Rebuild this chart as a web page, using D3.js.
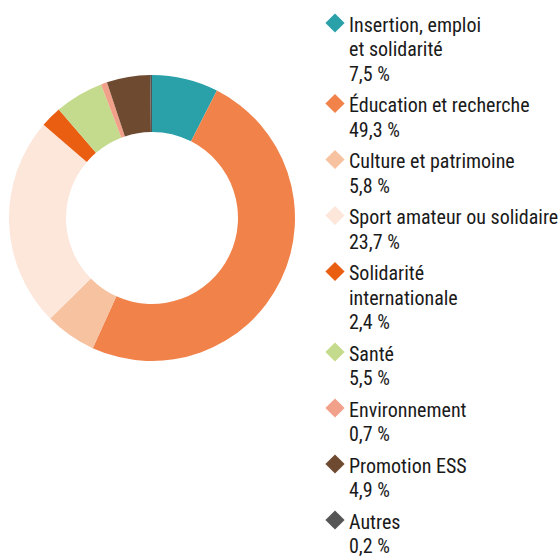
<!doctype html>
<head>
	<meta charset="utf-8">
	<script src="https://d3js.org/d3.v7.min.js"></script>
	<style>
		body { margin: 0; background: #fff; }
		text { font-family: "Liberation Sans Narrow", "Roboto Condensed", "Arial Narrow", sans-serif; fill: #1a1a1a; }
	</style>
</head>
<body>
	<svg id="chart" width="559" height="558"></svg>
	<script>
		// data
		const categories = ["Insertion, emploi|et solidarité", "Éducation et recherche", "Culture et patrimoine",
			"Sport amateur ou solidaire", "Solidarité|internationale", "Santé", "Environnement", "Promotion ESS", "Autres"]
		const values = [7.5, 49.3, 5.8, 23.7, 2.4, 5.5, 0.7, 4.9, 0.2]
		const valueLabels = ["7,5 %", "49,3 %", "5,8 %", "23,7 %", "2,4 %", "5,5 %", "0,7 %", "4,9 %", "0,2 %"]
		const colors = ["#2aa0a9", "#f0824a", "#f7c2a0", "#fde6da", "#e95e10", "#c4da8c", "#f1a08a", "#6e4b30", "#555555"]

		const svg = d3.select("#chart")
		const cx = 152, cy = 218, rOuter = 143, rInner = 86

		const pie = d3.pie().sort(null).value(d => d)
		const arc = d3.arc().innerRadius(rInner).outerRadius(rOuter)
		const color = d3.scaleOrdinal().domain(d3.range(values.length)).range(colors)

		svg.append("g")
			.attr("transform", `translate(${cx},${cy})`)
			.selectAll("path")
			.data(pie(values))
			.join("path")
			.attr("d", arc)
			.attr("fill", (d, i) => color(i))

		// legend
		const lineH = 24.5, gap = 31.5, fontSize = 20
		let y = 31.5
		const legend = svg.append("g")
		categories.forEach((c, i) => {
			const g = legend.append("g")
			const lines = c.split("|").concat([valueLabels[i]])
			g.append("path")
				.attr("d", d3.symbol(d3.symbolDiamond2, 235)())
				.attr("transform", `translate(335,${y - 8.5})`)
				.attr("fill", color(i))
			lines.forEach((l, j) => {
				g.append("text")
					.attr("x", 349)
					.attr("y", y + j * lineH)
					.attr("font-size", fontSize)
					.text(l)
			})
			y += (lines.length - 1) * lineH + gap
		})
	</script>
</body>
